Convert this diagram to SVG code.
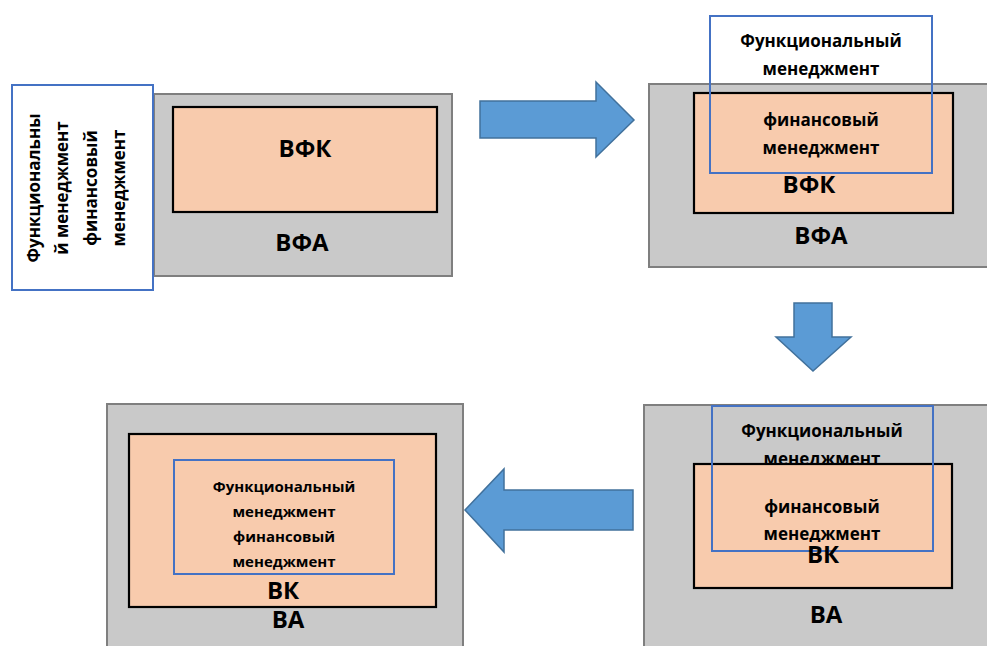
<svg xmlns="http://www.w3.org/2000/svg" width="987" height="646" viewBox="0 0 987 646">
  <defs>
    <style>
      .outer { fill: #c9c9c9; stroke: #7f7f7f; stroke-width: 2; }
      .inner { fill: #f8cbad; stroke: #000000; stroke-width: 2.2; }
      .box { fill: none; stroke: #4472c4; stroke-width: 2; }
      .boxw { fill: #ffffff; stroke: #4472c4; stroke-width: 2; }
      .arrow { fill: #5b9bd5; stroke: #41719c; stroke-width: 1.5; }
      text { font-family: "Open Sans", "Noto Sans", "DejaVu Sans", sans-serif; font-weight: bold; fill: #000000; text-anchor: middle; }
      .big { font-size: 24px; }
      .sm { font-size: 17px; }
      .sm4 { font-size: 15px; }
    </style>
    <clipPath id="clip3">
      <rect x="712" y="406" width="221" height="136"/>
    </clipPath>
  </defs>

  <g id="panel1">
    <rect class="outer" x="154" y="94" width="298" height="182"/>
    <rect class="inner" x="173" y="107" width="264" height="105"/>
    <text class="big" x="305" y="157">ВФК</text>
    <text class="big" x="302" y="251">ВФА</text>
    <rect class="boxw" x="12" y="85" width="141" height="205"/>
    <text class="sm" transform="translate(40,188) rotate(-90)">Функциональны</text>
    <text class="sm" transform="translate(68,188) rotate(-90)">й менеджмент</text>
    <text class="sm" transform="translate(97,188) rotate(-90)">финансовый</text>
    <text class="sm" transform="translate(125,188) rotate(-90)">менеджмент</text>
  </g>

  <g id="panel2">
    <rect class="outer" x="649" y="84" width="345" height="183"/>
    <rect class="inner" x="694" y="93" width="259" height="120"/>
    <text class="big" x="809" y="193">ВФК</text>
    <text class="big" x="821" y="244">ВФА</text>
    <rect class="box" x="710" y="16" width="222" height="157"/>
    <text class="sm" x="821" y="47">Функциональный</text>
    <text class="sm" x="821" y="75">менеджмент</text>
    <text class="sm" x="821" y="126">финансовый</text>
    <text class="sm" x="821" y="154">менеджмент</text>
  </g>

  <g id="panel3">
    <rect class="outer" x="644" y="405" width="350" height="250"/>
    <text class="sm" x="822" y="437">Функциональный</text>
    <text class="sm" x="822" y="465">менеджмент</text>
    <rect class="inner" x="694" y="464" width="258" height="124"/>
    <rect class="box" x="712" y="406" width="221" height="145"/>
    <g clip-path="url(#clip3)">
      <text class="sm" x="822" y="513">финансовый</text>
      <text class="sm" x="822" y="540">менеджмент</text>
    </g>
    <text class="big" x="823" y="563">ВК</text>
    <text class="big" x="826" y="623">ВА</text>
  </g>

  <g id="panel4">
    <rect class="outer" x="107" y="404" width="356" height="250"/>
    <rect class="inner" x="129" y="434" width="307" height="173"/>
    <rect class="box" x="174" y="460" width="220" height="114"/>
    <text class="sm4" x="284" y="492">Функциональный</text>
    <text class="sm4" x="284" y="517">менеджмент</text>
    <text class="sm4" x="284" y="542">финансовый</text>
    <text class="sm4" x="284" y="567">менеджмент</text>
    <text class="big" x="283" y="599">ВК</text>
    <text class="big" x="288" y="628">ВА</text>
  </g>

  <g id="connectors">
    <path class="arrow" d="M480,101 L596,101 L596,82 L634,120 L596,157 L596,138 L480,138 Z"/>
    <path class="arrow" d="M794,303 L832,303 L832,337 L851,337 L813,371 L776,337 L794,337 Z"/>
    <path class="arrow" d="M633,490 L504,490 L504,469 L465,510 L504,552 L504,530 L633,530 Z"/>
  </g>
</svg>
